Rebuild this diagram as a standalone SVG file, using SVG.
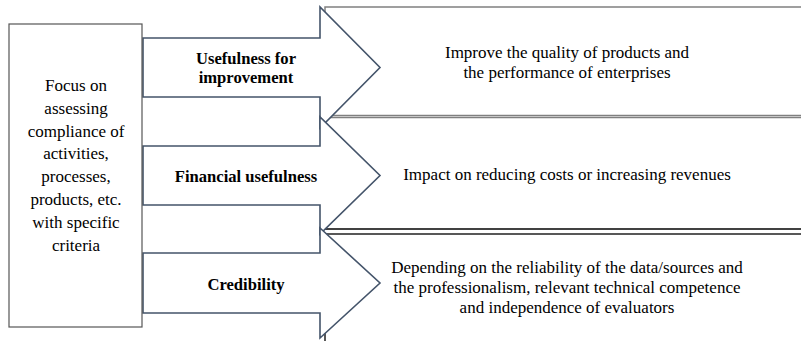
<svg xmlns="http://www.w3.org/2000/svg" width="801" height="341" viewBox="0 0 801 341">
  <style>
    .box { fill: #fff; stroke: #808080; stroke-width: 1.5; }
    .arrow { fill: #fff; stroke: #44546a; stroke-width: 1.6; stroke-linejoin: miter; }
  </style>
  <rect width="801" height="341" fill="#fff"/>

  <g id="result1">
    <rect class="box" x="325" y="7" width="490" height="108.5"/>
    <text font-family="Liberation Serif" font-size="20" text-anchor="middle" transform="translate(567,58) scale(0.85)">Improve the quality of products and</text>
    <text font-family="Liberation Serif" font-size="20" text-anchor="middle" transform="translate(567,78) scale(0.85)">the performance of enterprises</text>
  </g>
  <g id="result2">
    <rect class="box" x="325" y="117.5" width="490" height="111.5"/>
    <line x1="325" y1="229" x2="801" y2="229" stroke="#222" stroke-width="1.5"/>
    <text font-family="Liberation Serif" font-size="20" text-anchor="middle" transform="translate(567,180) scale(0.85)">Impact on reducing costs or increasing revenues</text>
  </g>
  <g id="result3">
    <rect class="box" x="325" y="234" width="490" height="120" style="stroke:#222"/>
    <text font-family="Liberation Serif" font-size="20" text-anchor="middle" transform="translate(567,273) scale(0.85)">Depending on the reliability of the data/sources and</text>
    <text font-family="Liberation Serif" font-size="20" text-anchor="middle" transform="translate(567,293) scale(0.85)">the professionalism, relevant technical competence</text>
    <text font-family="Liberation Serif" font-size="20" text-anchor="middle" transform="translate(567,313) scale(0.85)">and independence of evaluators</text>
  </g>

  <g id="connectors">
    <g id="arrow1">
      <polygon class="arrow" points="143,38 320,38 320,7 380,67.5 320,128 320,97 143,97"/>
      <text font-family="Liberation Serif" font-size="20" font-weight="bold" text-anchor="middle" transform="translate(246,64) scale(0.83)">Usefulness for</text>
      <text font-family="Liberation Serif" font-size="20" font-weight="bold" text-anchor="middle" transform="translate(246,83) scale(0.83)">improvement</text>
    </g>
    <g id="arrow2">
      <polygon class="arrow" points="143,146 320,146 320,117 380,175.5 320,234 320,205 143,205"/>
      <text font-family="Liberation Serif" font-size="20" font-weight="bold" text-anchor="middle" transform="translate(246,182) scale(0.83)">Financial usefulness</text>
    </g>
    <g id="arrow3">
      <polygon class="arrow" points="143,253 320,253 320,228 380,283 320,338 320,313 143,313"/>
      <text font-family="Liberation Serif" font-size="20" font-weight="bold" text-anchor="middle" transform="translate(246,290) scale(0.83)">Credibility</text>
    </g>
  </g>

  <g id="source">
    <rect x="9" y="24" width="133" height="303" fill="#fff" stroke="#555" stroke-width="1.2"/>
    <text font-family="Liberation Serif" font-size="20" text-anchor="middle" transform="translate(76,91) scale(0.85)">Focus on</text>
    <text font-family="Liberation Serif" font-size="20" text-anchor="middle" transform="translate(76,113.8) scale(0.85)">assessing</text>
    <text font-family="Liberation Serif" font-size="20" text-anchor="middle" transform="translate(76,136.6) scale(0.85)">compliance of</text>
    <text font-family="Liberation Serif" font-size="20" text-anchor="middle" transform="translate(76,159.4) scale(0.85)">activities,</text>
    <text font-family="Liberation Serif" font-size="20" text-anchor="middle" transform="translate(76,182.2) scale(0.85)">processes,</text>
    <text font-family="Liberation Serif" font-size="20" text-anchor="middle" transform="translate(76,205) scale(0.85)">products, etc.</text>
    <text font-family="Liberation Serif" font-size="20" text-anchor="middle" transform="translate(76,227.8) scale(0.85)">with specific</text>
    <text font-family="Liberation Serif" font-size="20" text-anchor="middle" transform="translate(76,250.6) scale(0.85)">criteria</text>
  </g>
</svg>
